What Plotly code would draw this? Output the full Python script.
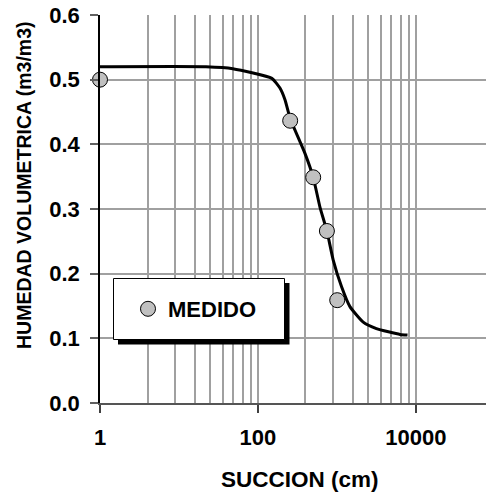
import plotly.graph_objects as go

# ---- data ----
curve_succion = [1, 22, 48, 150, 190, 220, 256, 394, 501, 610, 747, 898, 1143, 1462, 2153, 3162, 6310, 7830]
curve_humedad = [0.520, 0.520, 0.517, 0.502, 0.487, 0.469, 0.440, 0.386, 0.349, 0.303, 0.266, 0.221,
                 0.180, 0.149, 0.125, 0.115, 0.106, 0.105]

medido_succion = [1, 256, 501, 747, 1009]
medido_humedad = [0.50, 0.4365, 0.349, 0.266, 0.159]

x_major_ticks = [1, 100, 10000]
x_major_labels = ["1", "100", "10000"]
x_minor_grid = [4, 9, 16, 25, 36, 49, 64, 81, 400, 900, 1600, 2500, 3600, 4900, 6400, 8100]
y_ticks = [0.0, 0.1, 0.2, 0.3, 0.4, 0.5, 0.6]
y_labels = ["0.0", "0.1", "0.2", "0.3", "0.4", "0.5", "0.6"]

FONT = "Liberation Sans, Arial, sans-serif"

fig = go.Figure()
fig.add_trace(go.Scatter(
    x=curve_succion, y=curve_humedad, mode="lines",
    line=dict(color="black", width=3, shape="spline", smoothing=0.5),
    showlegend=False, hoverinfo="skip", cliponaxis=False,
))
fig.add_trace(go.Scatter(
    x=medido_succion, y=medido_humedad, mode="markers", name="MEDIDO",
    marker=dict(size=15, color="#C0C0C0", line=dict(color="black", width=1)),
    cliponaxis=False,
))

# plot-area geometry in pixels (for paper conversions)
L, R, T, B = 100, 486, 15, 403
W, H = R - L, B - T


def px(xp):
    return (xp - L) / W


def py(yp):
    return (B - yp) / H


# legend box shadow + box
fig.add_shape(type="rect", xref="paper", yref="paper",
              x0=px(118), x1=px(289.5), y0=py(344.5), y1=py(283),
              fillcolor="black", line=dict(width=0), layer="above")
fig.add_shape(type="rect", xref="paper", yref="paper",
              x0=px(113.5), x1=px(284.5), y0=py(339.5), y1=py(278.5),
              fillcolor="white", line=dict(color="black", width=1), layer="above")

fig.update_layout(
    width=486, height=495,
    margin=dict(l=L, r=486 - R, t=T, b=495 - B, pad=0),
    paper_bgcolor="white", plot_bgcolor="white",
    font=dict(family=FONT, size=22, color="black", weight="bold"),
    showlegend=True,
    legend=dict(
        x=px(128), y=py(309), xanchor="left", yanchor="middle",
        bgcolor="rgba(0,0,0,0)", borderwidth=0,
        font=dict(family=FONT, size=22, color="black", weight="bold"),
    ),
    xaxis=dict(
        type="log", range=[0, 4.888],
        tickmode="array", tickvals=x_major_ticks, ticktext=x_major_labels,
        ticks="outside", ticklen=8, tickwidth=1.5, tickcolor="#404040",
        ticklabelstandoff=6,
        showgrid=True, gridcolor="#A0A0A0", gridwidth=1.5,
        minor=dict(tickmode="array", tickvals=x_minor_grid, showgrid=True,
                   gridcolor="#A0A0A0", gridwidth=1.5, ticks=""),
        showline=True, linecolor="#555555", linewidth=2,
        zeroline=False, tickfont=dict(size=22),
    ),
    yaxis=dict(
        range=[0, 0.6],
        tickmode="array", tickvals=y_ticks, ticktext=y_labels,
        ticks="outside", ticklen=8, tickwidth=1.5, tickcolor="#606060",
        ticklabelstandoff=6,
        showgrid=True, gridcolor="#A0A0A0", gridwidth=1.5,
        showline=True, linecolor="black", linewidth=1.5,
        zeroline=False, tickfont=dict(size=22),
    ),
    annotations=[
        dict(text="HUMEDAD VOLUMETRICA (m3/m3)", xref="paper", yref="paper",
             x=px(24), y=py(185), xanchor="center", yanchor="middle",
             textangle=-90, showarrow=False,
             font=dict(family=FONT, size=19.5, color="black", weight="bold")),
        dict(text="SUCCION (cm)", xref="paper", yref="paper",
             x=px(300), y=py(479), xanchor="center", yanchor="middle",
             showarrow=False,
             font=dict(family=FONT, size=22.5, color="black", weight="bold")),
    ],
)

fig.write_html("out.html")
